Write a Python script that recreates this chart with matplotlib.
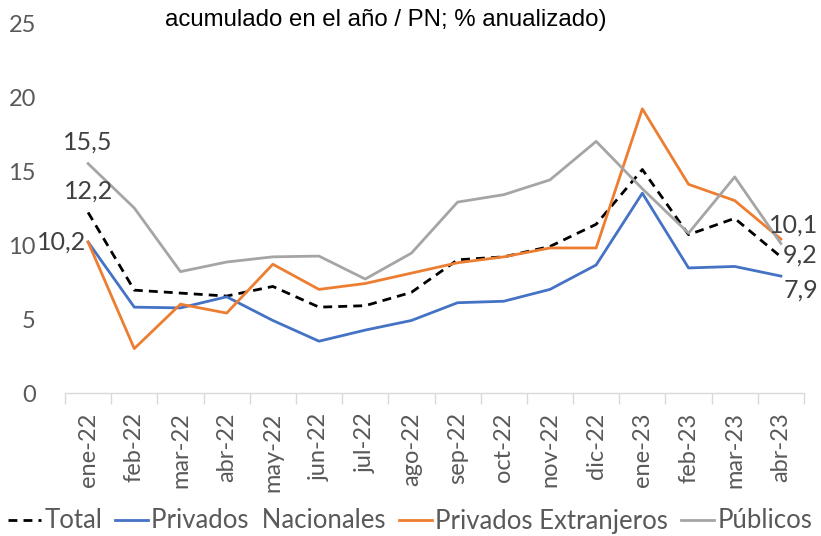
import matplotlib
matplotlib.use("Agg")
import matplotlib.pyplot as plt
from matplotlib.ticker import FixedLocator, NullFormatter

months = ["ene-22", "feb-22", "mar-22", "abr-22", "may-22", "jun-22", "jul-22", "ago-22",
          "sep-22", "oct-22", "nov-22", "dic-22", "ene-23", "feb-23", "mar-23", "abr-23"]
total = [12.2, 6.95, 6.75, 6.55, 7.2, 5.8, 5.9, 6.8, 9.0, 9.2, 9.9, 11.4, 15.1, 10.7, 11.8, 9.2]
nacionales = [10.2, 5.8, 5.75, 6.5, 4.9, 3.5, 4.25, 4.9, 6.1, 6.2, 7.0, 8.65, 13.5, 8.45, 8.55, 7.9]
extranjeros = [10.2, 3.0, 6.0, 5.4, 8.7, 7.0, 7.4, 8.1, 8.8, 9.2, 9.8, 9.8, 19.2, 14.1, 13.0, 10.4]
publicos = [15.5, 12.5, 8.2, 8.85, 9.2, 9.25, 7.7, 9.45, 12.9, 13.4, 14.4, 17.0, 13.8, 10.8, 14.6, 10.1]
yticks = [0, 5, 10, 15, 20, 25]
title = "acumulado en el año / PN; % anualizado)"

grey = "#595959"
fig = plt.figure(figsize=(8.21, 5.36), dpi=100)
ax = fig.add_axes([65/821, 1-393/536, (804-65)/821, (393-23)/536])
x = list(range(len(months)))

ax.plot(x, total, color="black", lw=2.0, ls=(0, (3.2, 2.2)), label="Total")
ax.plot(x, nacionales, color="#4472C4", lw=2.0, label="Privados  Nacionales")
ax.plot(x, extranjeros, color="#ED7D31", lw=2.0, label="Privados Extranjeros")
ax.plot(x, publicos, color="#A5A5A5", lw=2.0, label="Públicos")

ax.set_xlim(-0.5, len(months) - 0.5)
ax.set_ylim(0, 25)
for s in ["top", "right", "left"]:
    ax.spines[s].set_visible(False)
ax.spines["bottom"].set_color("#D9D9D9")
ax.spines["bottom"].set_linewidth(1.0)

ax.set_yticks(yticks)
ax.set_yticklabels([str(v) for v in yticks], fontsize=17, color=grey, family="Lato")
ax.tick_params(axis="y", length=0, pad=21)

ax.set_xticks(x)
ax.set_xticklabels(months, rotation=90, fontsize=17, color=grey, family="Lato")
ax.tick_params(axis="x", which="major", length=0, pad=14)
ax.xaxis.set_minor_locator(FixedLocator([i - 0.5 for i in range(len(months) + 1)]))
ax.xaxis.set_minor_formatter(NullFormatter())
ax.tick_params(axis="x", which="minor", length=8, color="#D9D9D9", width=1.0)

lbl = dict(fontsize=18, color="#404040", family="Lato")
fmt = lambda v: f"{v:.1f}".replace(".", ",")
ax.text(0, publicos[0] + 0.65, fmt(publicos[0]), ha="center", va="bottom", **lbl)
ax.text(0, total[0] + 0.65, fmt(total[0]), ha="center", va="bottom", **lbl)
ax.text(-0.05, extranjeros[0], fmt(extranjeros[0]), ha="right", va="center", **lbl)
n = len(months) - 1
ax.text(n - 0.25, publicos[n] + 0.5, fmt(publicos[n]), ha="left", va="bottom", **lbl)
ax.text(n + 0.05, total[n] + 0.1, fmt(total[n]), ha="left", va="center", **lbl)
ax.text(n + 0.05, nacionales[n] - 0.2, fmt(nacionales[n]), ha="left", va="top", **lbl)

fig.text(386/821, 1-20/536, title, ha="center", va="center", fontsize=17.3,
         family="Liberation Sans", color="black")

leg = fig.legend(loc="center left", bbox_to_anchor=(0.0, 1-521/536), ncol=4, frameon=False,
                 prop={"family": "Lato", "size": 18.5}, handlelength=1.3, handletextpad=0.12,
                 columnspacing=0.5, borderaxespad=0.0, borderpad=0.3)
for t in leg.get_texts():
    t.set_color(grey)

fig.savefig("out.png", dpi=100)
